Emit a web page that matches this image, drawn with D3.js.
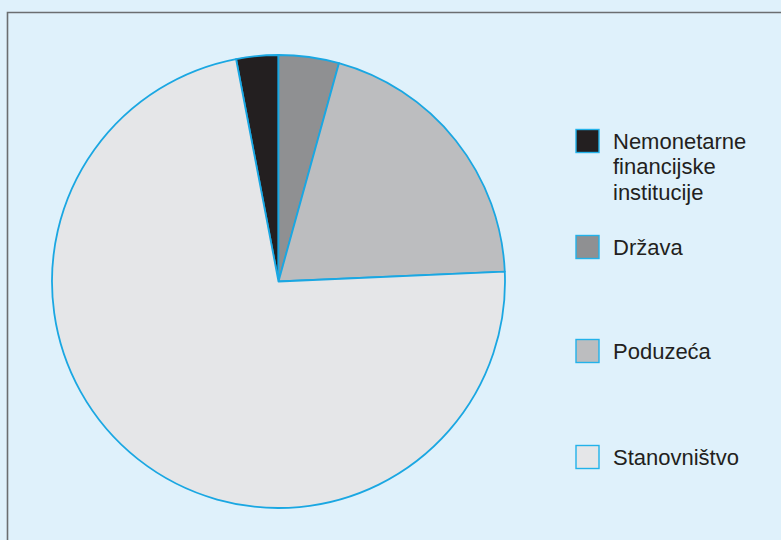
<!DOCTYPE html>
<html>
<head>
<meta charset="utf-8">
<script src="https://cdn.jsdelivr.net/npm/d3@7"></script>
<style>
  html, body { margin: 0; padding: 0; background: #dff1fb; }
  svg { display: block; }
</style>
</head>
<body>
<svg id="chart" width="781" height="540"></svg>
<script>
// Sector shares (%)
const categories = ["Nemonetarne financijske institucije", "Država", "Poduzeća", "Stanovništvo"];
const legendLines = [["Nemonetarne", "financijske", "institucije"], ["Država"], ["Poduzeća"], ["Stanovništvo"]];
const values = [3.0, 4.3, 20.0, 72.7];
const colors = ["#231f20", "#8f9092", "#bcbdbf", "#e5e6e8"];

const svg = d3.select("#chart");
const W = 781, H = 540;

svg.append("rect").attr("width", W).attr("height", H).attr("fill", "#dff1fb");

// frame (top and left edges visible)
svg.append("path")
  .attr("d", `M7.5,${H} L7.5,12.5 L${W},12.5`)
  .attr("fill", "none")
  .attr("stroke", "#6b6e70")
  .attr("stroke-width", 1.6);

const cx = 278.5, cy = 281.5, r = 226.5;
const total = d3.sum(values);
const start = -2 * Math.PI * values[0] / total;

const pie = d3.pie().sort(null).value(d => d)
  .startAngle(start).endAngle(start + 2 * Math.PI);
const arc = d3.arc().innerRadius(0).outerRadius(r);

svg.append("g")
  .attr("transform", `translate(${cx},${cy})`)
  .selectAll("path")
  .data(pie(values))
  .join("path")
  .attr("d", arc)
  .attr("fill", (d, i) => colors[i])
  .attr("stroke", "#1aa7e2")
  .attr("stroke-width", 1.8)
  .attr("stroke-linejoin", "round");

// legend
const swX = 576, swW = 23, swH = 23;
const swY = [129.5, 235.5, 339.5, 445.5];
const textX = 613;
const lg = svg.append("g");
categories.forEach((c, i) => {
  lg.append("rect")
    .attr("x", swX).attr("y", swY[i])
    .attr("width", swW).attr("height", swH)
    .attr("fill", colors[i])
    .attr("stroke", "#22b2ea")
    .attr("stroke-width", 1.4);
  const t = lg.append("text")
    .attr("x", textX)
    .attr("y", swY[i] + 19)
    .attr("font-family", "'Liberation Sans', Arial, sans-serif")
    .attr("font-size", 22)
    .attr("fill", "#231f20");
  legendLines[i].forEach((ln, j) => {
    t.append("tspan").attr("x", textX).attr("dy", j === 0 ? 0 : 25.5).text(ln);
  });
});
</script>
</body>
</html>
